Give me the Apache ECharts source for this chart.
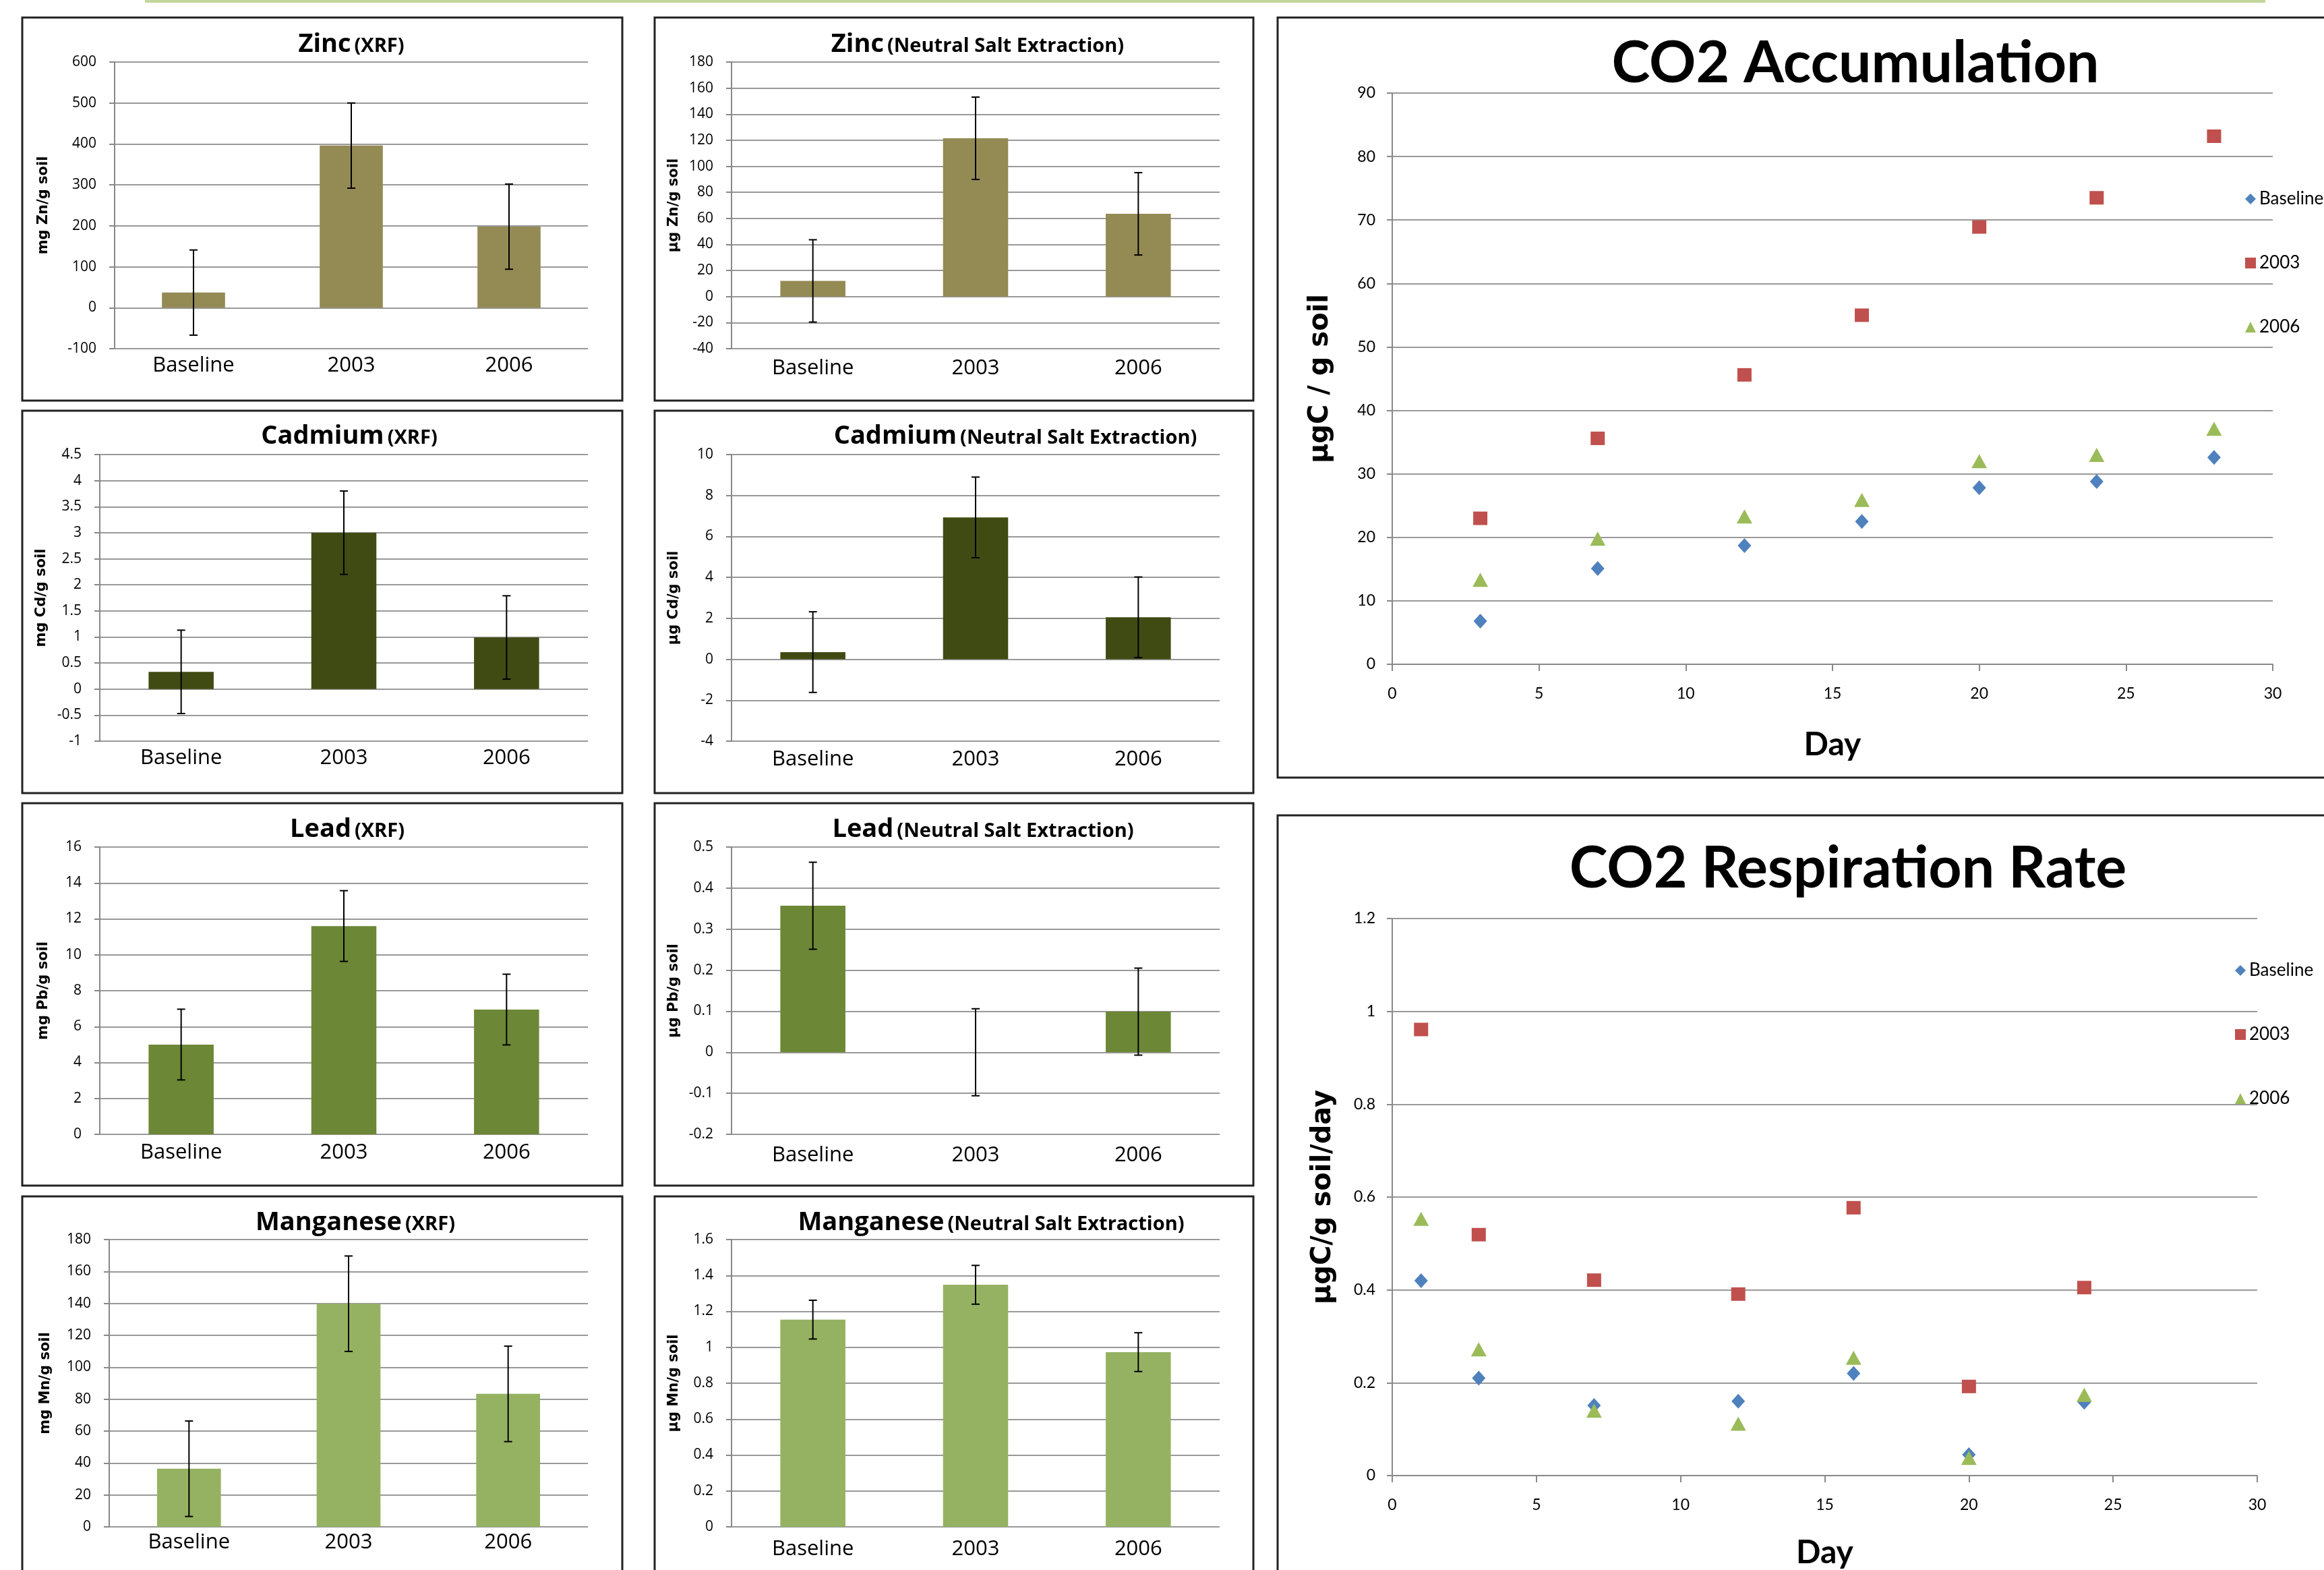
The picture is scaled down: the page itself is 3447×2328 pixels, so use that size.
<!DOCTYPE html>
<html>
<head>
<meta charset="utf-8">
<title>Soil metals and CO2</title>
<script src="https://cdn.jsdelivr.net/npm/echarts@6/dist/echarts.min.js"></script>
<style>
  html, body { margin: 0; padding: 0; background: #fff; }
  #main { width: 3447px; height: 2328px; }
</style>
</head>
<body>
<div id="main"></div>
<script>
var categories = ['Baseline', '2003', '2006'];

var zincXrf = [37, 396, 198];
var zincXrfErr = [104, 104, 104];
var zincNse = [12, 121.5, 63.5];
var zincNseErr = [31.6, 31.6, 31.6];
var cdXrf = [0.33, 3.0, 0.99];
var cdXrfErr = [0.8, 0.8, 0.8];
var cdNse = [0.35, 6.93, 2.05];
var cdNseErr = [1.97, 1.97, 1.97];
var pbXrf = [5.0, 11.6, 6.95];
var pbXrfErr = [1.97, 1.97, 1.97];
var pbNse = [0.357, 0, 0.099];
var pbNseErr = [0.106, 0.106, 0.106];
var mnXrf = [36.4, 139.8, 83.3];
var mnXrfErr = [29.9, 29.9, 29.9];
var mnNse = [1.154, 1.348, 0.973];
var mnNseErr = [0.108, 0.108, 0.108];

var accumDays = [3, 7, 12, 16, 20, 24, 28];
var accumBaseline = [6.8, 15.1, 18.7, 22.5, 27.8, 28.8, 32.6];
var accum2003 = [23.0, 35.6, 45.6, 55.0, 68.9, 73.5, 83.2];
var accum2006 = [13.3, 19.8, 23.3, 25.9, 32.0, 33.0, 37.1];

var respDays = [1, 3, 7, 12, 16, 20, 24];
var respBaseline = [0.42, 0.21, 0.151, 0.16, 0.22, 0.045, 0.158];
var resp2003 = [0.961, 0.519, 0.421, 0.391, 0.577, 0.192, 0.405];
var resp2006 = [0.553, 0.272, 0.14, 0.112, 0.254, 0.038, 0.174];

var seriesNames = ['Baseline', '2003', '2006'];

// ---- look ----
var FONT = 'Lato, "Open Sans", sans-serif';
var PANELFONT = '"Open Sans", Lato, sans-serif';
var BOLDSANS = '"DejaVu Sans", Verdana, sans-serif';
var GRID_C = '#999999';
var AXIS_C = '#888888';

function pair(xs, ys) {
  return xs.map(function (x, i) { return [x, ys[i]]; });
}

// bar panels: data refs + where they sit on the poster
var panels = [
  {t: 'Zinc', s: '(XRF)', yName: 'mg Zn/g soil', vals: zincXrf, err: zincXrfErr, min: -100, max: 600, step: 100,
   color: '#948A54', box: [170, 92, 872, 517], tx: 521, ty: 66, gap: 95, lm: 10},
  {t: 'Zinc', s: '(Neutral Salt Extraction)', yName: 'µg Zn/g soil', vals: zincNse, err: zincNseErr, min: -40, max: 180, step: 20,
   color: '#948A54', box: [1085, 92, 1809, 517], tx: 1450, ty: 66, gap: 75, lm: 14},
  {t: 'Cadmium', s: '(XRF)', yName: 'mg Cd/g soil', vals: cdXrf, err: cdXrfErr, min: -1, max: 4.5, step: 0.5,
   color: '#3F4B13', box: [148, 674, 872, 1099], tx: 518, ty: 647, gap: 76, lm: 10},
  {t: 'Cadmium', s: '(Neutral Salt Extraction)', yName: 'µg Cd/g soil', vals: cdNse, err: cdNseErr, min: -4, max: 10, step: 2,
   color: '#3F4B13', box: [1085, 674, 1809, 1099], tx: 1506, ty: 647, gap: 75, lm: 12},
  {t: 'Lead', s: '(XRF)', yName: 'mg Pb/g soil', vals: pbXrf, err: pbXrfErr, min: 0, max: 16, step: 2,
   color: '#6C8736', box: [148, 1256, 872, 1682], tx: 515, ty: 1230, gap: 73, lm: 12},
  {t: 'Lead', s: '(Neutral Salt Extraction)', yName: 'µg Pb/g soil', vals: pbNse, err: pbNseErr, min: -0.2, max: 0.5, step: 0.1,
   color: '#6C8736', box: [1085, 1256, 1809, 1682], tx: 1458, ty: 1230, gap: 75, lm: 16},
  {t: 'Manganese', s: '(XRF)', yName: 'mg Mn/g soil', vals: mnXrf, err: mnXrfErr, min: 0, max: 180, step: 20,
   color: '#95B262', box: [162, 1838, 872, 2264], tx: 527, ty: 1813, gap: 84, lm: 8},
  {t: 'Manganese', s: '(Neutral Salt Extraction)', yName: 'µg Mn/g soil', vals: mnNse, err: mnNseErr, min: 0, max: 1.6, step: 0.2,
   color: '#95B262', box: [1085, 1838, 1809, 2264], tx: 1470, ty: 1813, gap: 75, lm: 18}
];

var grids = [], xAxes = [], yAxes = [], series = [], titles = [];

function errorBars(idx, vals, errs) {
  return {
    type: 'custom', xAxisIndex: idx, yAxisIndex: idx, z: 5,
    encode: {x: 0, y: [1, 2]},
    data: vals.map(function (v, i) { return [i, v - errs[i], v + errs[i]]; }),
    renderItem: function (params, api) {
      var lo = api.coord([api.value(0), api.value(1)]);
      var hi = api.coord([api.value(0), api.value(2)]);
      var cap = 6;
      var st = {stroke: '#000', lineWidth: 2};
      return {type: 'group', children: [
        {type: 'line', shape: {x1: lo[0], y1: lo[1], x2: hi[0], y2: hi[1]}, style: st},
        {type: 'line', shape: {x1: lo[0] - cap, y1: lo[1], x2: lo[0] + cap, y2: lo[1]}, style: st},
        {type: 'line', shape: {x1: hi[0] - cap, y1: hi[1], x2: hi[0] + cap, y2: hi[1]}, style: st}
      ]};
    }
  };
}

panels.forEach(function (p, i) {
  grids.push({left: p.box[0], top: p.box[1], width: p.box[2] - p.box[0], height: p.box[3] - p.box[1]});
  xAxes.push({
    gridIndex: i, type: 'category', data: categories,
    axisLine: {show: false, onZero: false}, axisTick: {show: false},
    axisLabel: {fontFamily: PANELFONT, fontSize: 31, color: '#000', margin: p.lm}
  });
  yAxes.push({
    gridIndex: i, type: 'value', min: p.min, max: p.max, interval: p.step,
    name: p.yName, nameLocation: 'middle', nameGap: p.gap, nameRotate: 90,
    nameTextStyle: {fontFamily: BOLDSANS, fontWeight: 'bold', fontSize: 21, color: '#000'},
    axisLine: {show: true, lineStyle: {color: AXIS_C, width: 2}},
    axisTick: {show: true, length: 8, lineStyle: {color: AXIS_C, width: 2}},
    axisLabel: {fontFamily: PANELFONT, fontSize: 21, color: '#000', margin: 27},
    splitLine: {show: true, lineStyle: {color: GRID_C, width: 2}}
  });
  series.push({
    type: 'bar', xAxisIndex: i, yAxisIndex: i, data: p.vals, barWidth: '40%',
    itemStyle: {color: p.color}, z: 3
  });
  series.push(errorBars(i, p.vals, p.err));
  titles.push({
    text: '{a|' + p.t + '} {b|' + p.s + '}',
    left: p.tx, top: p.ty, textAlign: 'center', textVerticalAlign: 'middle', padding: 0,
    textStyle: {rich: {
      a: {fontFamily: PANELFONT, fontWeight: 'bold', fontSize: 38, color: '#000', verticalAlign: 'bottom'},
      b: {fontFamily: PANELFONT, fontWeight: 'bold', fontSize: 29, color: '#000', verticalAlign: 'bottom', padding: [0, 0, 2, 0]}
    }}
  });
});

// scatter panels
var scatterPanels = [
  {title: 'CO2 Accumulation', yName: 'µgC / g soil', days: accumDays,
   ys: [accumBaseline, accum2003, accum2006], max: 90, step: 10,
   box: [2065, 138, 3371, 985], tx: 2752, ty: 94, gap: 86, xGap: 96, legend: [3330, 282]},
  {title: 'CO2 Respiration Rate', yName: 'µgC/g soil/day', days: respDays,
   ys: [respBaseline, resp2003, resp2006], max: 1.2, step: 0.2,
   box: [2065, 1362, 3348, 2190], tx: 2741, ty: 1288, gap: 82, xGap: 91, legend: [3315, 1426]}
];
var symbols = ['diamond', 'rect', 'triangle'];
var symbolSizes = [[20, 22], [21, 20], [23, 21]];
var colors = ['#4F81BD', '#C0504D', '#9BBB59'];
var legends = [];

scatterPanels.forEach(function (sp) {
  var gi = grids.length;
  grids.push({left: sp.box[0], top: sp.box[1], width: sp.box[2] - sp.box[0], height: sp.box[3] - sp.box[1]});
  xAxes.push({
    gridIndex: gi, type: 'value', min: 0, max: 30, interval: 5,
    name: 'Day', nameLocation: 'middle', nameGap: sp.xGap,
    nameTextStyle: {fontFamily: FONT, fontWeight: 'bold', fontSize: 48, color: '#000'},
    axisLine: {show: true, onZero: false, lineStyle: {color: AXIS_C, width: 2}},
    axisTick: {show: true, length: 10, lineStyle: {color: AXIS_C, width: 2}},
    axisLabel: {fontFamily: FONT, fontSize: 23, color: '#000', margin: 32},
    splitLine: {show: false}
  });
  yAxes.push({
    gridIndex: gi, type: 'value', min: 0, max: sp.max, interval: sp.step,
    name: sp.yName, nameLocation: 'middle', nameGap: sp.gap, nameRotate: 90,
    nameTextStyle: {fontFamily: BOLDSANS, fontWeight: 'bold', fontSize: 40, color: '#000'},
    axisLine: {show: true, lineStyle: {color: AXIS_C, width: 2}},
    axisTick: {show: true, length: 8, lineStyle: {color: AXIS_C, width: 2}},
    axisLabel: {fontFamily: FONT, fontSize: 23, color: '#000', margin: 25},
    splitLine: {show: true, lineStyle: {color: GRID_C, width: 2}}
  });
  sp.ys.forEach(function (ys, k) {
    series.push({
      type: 'scatter', name: seriesNames[k], xAxisIndex: gi, yAxisIndex: gi,
      data: pair(sp.days, ys), symbol: symbols[k], symbolSize: symbolSizes[k],
      itemStyle: {color: colors[k], opacity: 1}, z: 4
    });
  });
  titles.push({
    text: sp.title, left: sp.tx, top: sp.ty, textAlign: 'center', textVerticalAlign: 'middle', padding: 0,
    textStyle: {fontFamily: FONT, fontWeight: 'bold', fontSize: 86, color: '#000'}
  });
  legends.push({
    data: seriesNames, orient: 'vertical', left: sp.legend[0], top: sp.legend[1], padding: 0,
    itemWidth: 16, itemHeight: 16, itemGap: 69, selectedMode: false,
    textStyle: {fontFamily: FONT, fontSize: 26, color: '#000'}
  });
});

// panel frames and the thin rule across the top
var frames = [
  [33, 26, 890, 568], [971, 26, 888, 568],
  [33, 609, 890, 567], [971, 609, 888, 567],
  [33, 1191, 890, 567], [971, 1191, 888, 567],
  [33, 1774, 890, 600], [971, 1774, 888, 600],
  [1895, 26, 1600, 1127], [1895, 1209, 1600, 1150]
];
var graphics = [{
  type: 'line', shape: {x1: 215, y1: 2, x2: 3360, y2: 2},
  style: {stroke: '#C4D79B', lineWidth: 4}
}];
frames.forEach(function (f) {
  graphics.push({
    type: 'rect', shape: {x: f[0], y: f[1], width: f[2], height: f[3]},
    style: {fill: 'transparent', stroke: '#222', lineWidth: 3}, z: -1
  });
});

var myChart = echarts.init(document.getElementById('main'));
myChart.setOption({
  backgroundColor: '#fff',
  animation: false,
  title: titles,
  legend: legends,
  grid: grids,
  xAxis: xAxes,
  yAxis: yAxes,
  series: series,
  graphic: graphics
});
</script>
</body>
</html>
